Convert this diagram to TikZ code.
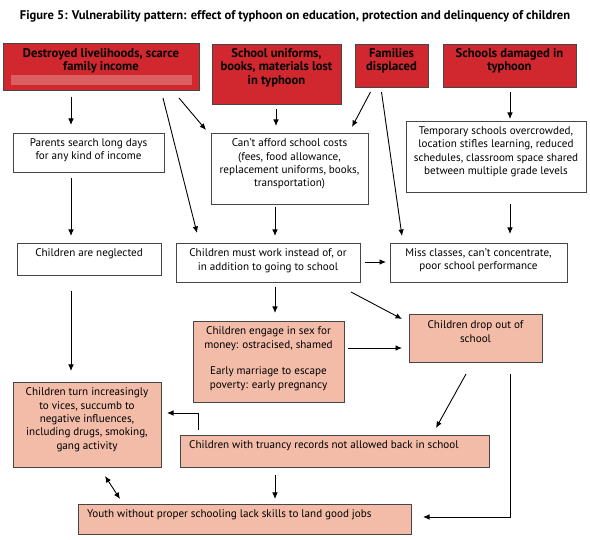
\documentclass[tikz,border=0pt]{standalone}
\usepackage{fontspec}
\setmainfont{PT Sans}
\usetikzlibrary{arrows.meta,calc}
\definecolor{hdred}{RGB}{209,39,46}
\definecolor{bandred}{RGB}{219,94,97}
\definecolor{pinkfill}{RGB}{242,188,168}
\definecolor{edgegray}{RGB}{70,70,70}
\tikzset{
  box/.style={draw=edgegray, line width=0.9pt, inner sep=0pt, outer sep=0pt},
  redbox/.style={box, fill=hdred},
  whitebox/.style={box, fill=white},
  pinkbox/.style={box, fill=pinkfill},
  txt/.style={align=center, font=\fontsize{11.1}{13.4}\selectfont, inner sep=0pt, anchor=north},
  htxt/.style={txt, font=\fontsize{12.6}{13.6}\selectfont\bfseries},
  arr/.style={-{Latex[length=6.5pt,width=5.5pt]}, line width=0.9pt},
  darr/.style={{Latex[length=6.5pt,width=5.5pt]}-{Latex[length=6.5pt,width=5.5pt]}, line width=0.9pt},
}
\newcommand\mkbox[6]{\node[#1, minimum width={#5-#3}, minimum height={#6-#4}] (#2) at ({(#3+#5)/2},{(#4+#6)/2}) {};}
\begin{document}
\begin{tikzpicture}[x=1pt,y=-1pt]
\useasboundingbox (0,0) rectangle (590,540);
% title
\node[font=\fontsize{12.6}{14}\selectfont\bfseries, inner sep=0pt] (title) at (295,16)
  {Figure 5: Vulnerability pattern: effect of typhoon on education, protection and delinquency of children};
% top red boxes
\mkbox{redbox}{red1}{3}{43}{199}{90}
\fill[bandred] (11,75) rectangle (192,85);
\node[htxt] at (101,48) {Destroyed livelihoods, scarce\\family income};
\mkbox{redbox}{red2}{212}{44}{341}{104}
\node[htxt] at (276.5,48) {School uniforms,\\books, materials lost\\in typhoon};
\mkbox{redbox}{red3}{355}{44}{428}{87}
\node[htxt] at (391.5,48) {Families\\displaced};
\mkbox{redbox}{red4}{443}{44}{576}{87}
\node[htxt] at (509.5,48) {Schools damaged in\\typhoon};
% second row
\mkbox{whitebox}{parents}{13}{133}{164}{172}
\node[txt] at (88.5,138.5) {Parents search long days\\for any kind of income};
\mkbox{whitebox}{afford}{211}{133}{368}{204}
\node[txt] at (289.5,138.5) {Can't afford school costs\\(fees, food allowance,\\replacement uniforms, books,\\transportation)};
\mkbox{whitebox}{temp}{406}{121}{586}{192}
\node[txt] at (496,126.5) {Temporary schools overcrowded,\\location stifles learning, reduced\\schedules, classroom space shared\\between multiple grade levels};
% third row
\mkbox{whitebox}{neglect}{17}{243}{161}{275}
\node[txt] at (89,248.5) {Children are neglected};
\mkbox{whitebox}{work}{176}{243}{360}{282}
\node[txt] at (268,248.5) {Children must work instead of, or\\in addition to going to school};
\mkbox{whitebox}{miss}{390}{243}{567}{282}
\node[txt] at (478.5,248.5) {Miss classes, can't concentrate,\\poor school performance};
% fourth row
\mkbox{pinkbox}{sex}{193}{321}{344}{402}
\node[txt] at (268.5,326.5) {Children engage in sex for\\money: ostracised, shamed\\[13.4pt]Early marriage to escape\\poverty: early pregnancy};
\mkbox{pinkbox}{drop}{409}{314}{542}{362}
\node[txt] at (475.5,320.5) {Children drop out of\\school};
% fifth row
\mkbox{pinkbox}{vices}{13}{382}{161}{467}
\node[txt] at (87,387.5) {Children turn increasingly\\to vices, succumb to\\negative influences,\\including drugs, smoking,\\gang activity};
\mkbox{pinkbox}{truancy}{180}{435}{489}{467}
\node[txt, anchor=north west] at (189,440.5) {Children with truancy records not allowed back in school};
% bottom
\mkbox{pinkbox}{youth}{78}{504}{411}{534}
\node[txt, anchor=north west] at (87,509.5) {Youth without proper schooling lack skills to land good jobs};
% connectors
\draw[arr] ($(red1.south -| 71,0)+(0,7)$) -- ($(parents.north -| 71,0)+(0,-8)$);
\draw[arr] ($(red1.south)+(62,8)$) -- ($(work.north west)+(21,-10)$);
\draw[arr] ($(red1.south)+(78,8)$) -- ($(afford.north west)+(-5,-3)$);
\draw[arr] ($(red2.south -| 276,0)+(0,5)$) -- ($(afford.north -| 276,0)+(0,-7)$);
\draw[arr] ($(red3.south)+(-21,5)$) -- ($(afford.north east)+(-16,-6)$);
\draw[arr] ($(red3.south)+(-10,5)$) -- ($(miss.north west)+(12,-7)$);
\draw[arr] ($(red4.south -| 510,0)+(0,5)$) -- ($(temp.north -| 510,0)+(0,-2)$);
\draw[arr] ($(parents.south -| 71,0)+(0,6)$) -- ($(neglect.north -| 71,0)+(0,-7)$);
\draw[arr] ($(afford.south -| 275,0)+(0,3)$) -- ($(work.north -| 275,0)+(0,-7)$);
\draw[arr] ($(temp.south -| 510,0)+(0,12)$) -- ($(miss.north -| 510,0)+(0,-9)$);
\draw[arr] ($(work.east)+(5,-0.5)$) -- ($(miss.west)+(-4,-0.5)$);
\draw[arr] ($(neglect.south -| 71,0)+(0,16)$) -- ($(vices.north -| 71,0)+(0,-11)$);
\draw[arr] ($(work.south -| 275,0)+(0,5)$) -- ($(sex.north -| 275,0)+(0,-8)$);
\draw[arr] ($(work.south east)+(-9,10)$) -- ($(drop.north west)+(-7,5)$);
\draw[arr] ($(sex.east)+(4,-13.5)$) -- ($(drop.west)+(-7,10)$);
\draw[arr] ($(drop.south)+(-9.5,12)$) -- ($(truancy.north)+(101.5,-7)$);
\draw[arr] ($(drop.south -| 510,0)+(0,12)$) |- ($(youth.east)+(12,-2)$);
\draw[arr] ($(truancy.north -| 198,0)+(0,-5)$) |- ($(vices.east)+(6,-11.5)$);
\draw[arr] ($(truancy.south -| 275,0)+(0,8)$) -- ($(youth.north -| 275,0)+(0,-5)$);
\draw[darr] ($(vices.south)+(18,9)$) -- ($(youth.north)+(-124.5,-5)$);
\end{tikzpicture}
\end{document}
